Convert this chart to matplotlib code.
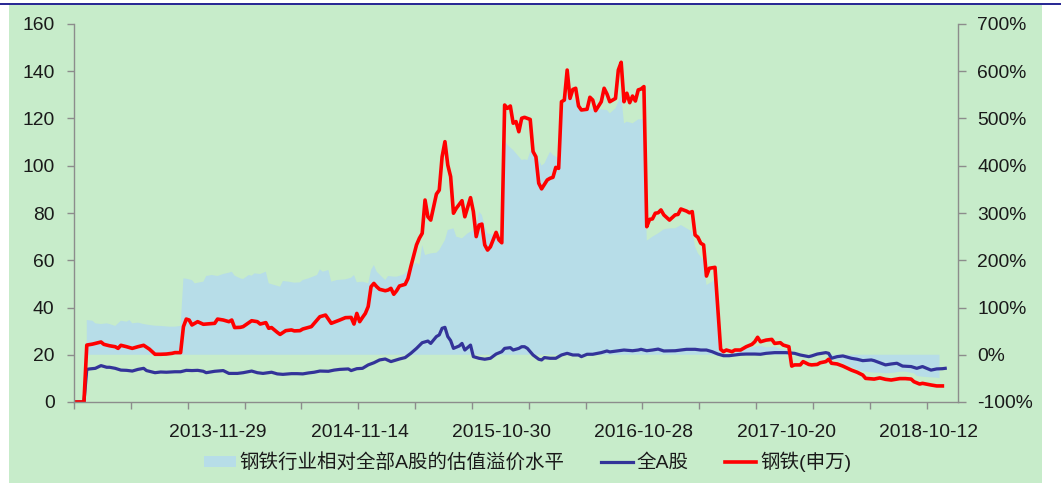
import matplotlib
matplotlib.use('Agg')
from matplotlib import pyplot as plt
from matplotlib.lines import Line2D
from matplotlib.patches import Rectangle
import numpy as np

plt.rcParams['font.family'] = ['Liberation Sans', 'Noto Sans CJK SC', 'DejaVu Sans']

## weekly categories (index = week number on the category axis)
n_weeks = 311
date_labels = ['2013-11-29', '2014-11-14', '2015-10-30', '2016-10-28', '2017-10-20', '2018-10-12']
label_weeks = [50, 100, 150, 200, 250, 300]

## 钢铁(申万) PE, left axis
steel_wk = [0, 3, 4, 6, 7, 9, 10, 12, 14, 15, 16, 18, 20, 22, 24, 26, 28, 30, 32, 34, 35, 37, 38, 39, 40, 41, 43, 45, 46, 49,
            50, 52, 54, 55, 56, 58, 59, 62, 64, 65, 67, 68, 69, 71, 72, 74, 76, 77, 79, 80, 83, 84, 86, 88, 90, 93, 95, 97, 98, 99,
            100, 101, 102, 103, 104, 105, 106, 107, 109, 110, 111, 112, 113, 114, 116, 117, 118, 120, 121, 122, 123, 124, 125, 127, 128, 129,
            130, 131, 132, 133, 134, 136, 137, 139, 140, 141, 142, 143, 144, 145, 146, 148, 149, 150, 151, 152, 153, 154, 155, 156, 157,
            158, 160, 161, 162, 163, 164, 166, 167, 168, 169, 170, 171, 172, 173, 174, 175, 176, 177, 178, 180, 181, 182, 183, 185, 186,
            187, 188, 190, 191, 192, 193, 194, 195, 196, 197, 198, 199, 200, 201, 202, 203, 204, 205, 206, 207, 209, 211, 212, 213, 215,
            216, 217, 218, 219, 220, 221, 222, 223, 225, 227, 228, 229, 231, 232, 234, 236, 238, 239, 240, 241, 243, 245, 246, 248, 249,
            251, 252, 253, 255, 256, 258, 259, 261, 262, 264, 265, 266, 268, 270, 273, 275, 277, 278, 281, 283, 285, 287, 290, 292, 294,
            295, 297, 298, 301, 303, 305]
steel_pe = [0, 0, 24.1, 24.5, 24.8, 25.4, 24.4, 23.8, 23.4, 22.7, 24.0, 23.4, 22.7, 23.4, 24.0, 22.4, 20.2, 20.2, 20.3, 20.6, 20.9, 20.9, 31.9, 35.1, 34.7, 32.6, 34.0, 32.9, 33.0, 33.3,
            35.1, 34.7, 34.0, 34.7, 31.5, 31.6, 31.9, 34.4, 34.0, 33.0, 33.6, 31.2, 31.5, 29.5, 28.6, 30.2, 30.5, 30.1, 30.2, 30.9, 31.9, 33.3, 36.1, 36.8, 33.3, 34.7, 35.7, 35.8, 33.0, 37.5,
            34.0, 35.8, 37.5, 40.4, 48.8, 50.2, 48.8, 47.7, 47.1, 47.4, 48.1, 45.6, 47.1, 49.1, 49.8, 52.3, 57.3, 66.5, 69.3, 71.4, 85.5, 78.4, 77.0, 88.0, 89.7, 103.8,
            110.2, 100.3, 95.4, 79.9, 82.0, 85.2, 78.4, 86.5, 80.6, 70.0, 74.9, 75.3, 66.5, 64.3, 65.7, 71.8, 68.6, 67.4, 125.7, 124.3, 125.3, 118.0, 118.7, 114.4, 120.1,
            120.5, 119.6, 106.0, 103.8, 92.6, 90.2, 94.0, 94.7, 95.1, 99.3, 98.9, 127.1, 127.8, 140.5, 128.5, 132.3, 132.8, 125.3, 123.6, 123.9, 129.0, 127.8, 123.3, 127.1, 132.8,
            130.4, 127.1, 128.5, 140.5, 143.8, 127.1, 130.7, 126.7, 129.5, 127.4, 132.1, 132.5, 133.5, 74.2, 77.3, 77.5, 79.9, 80.1, 81.3, 79.2, 77.0, 79.2, 79.4, 81.7, 80.8,
            80.1, 80.6, 70.7, 69.7, 67.2, 66.5, 53.3, 56.6, 57.0, 22.3, 21.3, 22.0, 21.3, 22.0, 22.0, 23.4, 24.4, 25.5, 27.4, 25.5, 26.2, 26.5, 24.8, 25.1, 24.1,
            23.4, 15.2, 15.7, 15.7, 17.1, 15.9, 15.7, 15.9, 16.6, 17.1, 18.1, 16.4, 16.1, 15.2, 13.5, 12.6, 11.4, 10.0, 9.7, 10.2, 9.6, 9.3, 9.9, 9.9, 9.7,
            8.6, 7.6, 7.9, 7.2, 6.8, 6.8]

## 全A股 PE, left axis
alla_wk = [0, 3, 4, 5, 7, 9, 11, 12, 14, 16, 18, 20, 22, 24, 25, 28, 30, 32, 35, 37, 39, 41, 43, 45, 46, 49, 52, 54, 57, 59,
           62, 64, 66, 69, 71, 73, 76, 78, 80, 82, 84, 86, 89, 91, 93, 96, 97, 99, 101, 103, 105, 107, 109, 111, 114, 116, 118, 120, 122, 124,
           125, 127, 128, 129, 130, 131, 132, 133, 135, 136, 137, 139, 140, 142, 144, 146, 148, 150, 151, 153, 154, 156, 157, 158, 159, 161, 163, 164, 165, 167,
           169, 171, 173, 175, 177, 178, 180, 182, 185, 187, 188, 191, 193, 196, 198, 199, 201, 203, 205, 207, 211, 213, 215, 218, 220, 222, 224, 226, 228, 230,
           232, 234, 236, 239, 241, 243, 246, 248, 250, 253, 255, 258, 259, 261, 264, 265, 266, 268, 270, 273, 275, 277, 280, 281, 283, 285, 287, 289, 291, 294,
           296, 298, 300, 301, 303, 305, 306]
alla_pe = [0, 0, 13.8, 14.0, 14.25, 15.4, 14.7, 14.7, 14.25, 13.5, 13.4, 13.1, 13.8, 14.25, 13.3, 12.4, 12.7, 12.6, 12.8, 12.8, 13.4, 13.3, 13.4, 13.0, 12.4, 13.0, 13.3, 12.1, 12.1, 12.4,
           13.1, 12.4, 12.1, 12.6, 11.9, 11.7, 12.0, 12.0, 11.9, 12.3, 12.6, 13.1, 13.0, 13.5, 13.8, 14.0, 13.3, 14.1, 14.25, 15.7, 16.6, 17.8, 18.2, 17.1, 18.2, 18.8, 20.6, 22.7, 25.1, 25.8,
           24.8, 27.7, 28.4, 31.2, 31.6, 27.7, 26.0, 22.7, 23.7, 24.8, 22.0, 24.1, 19.2, 18.5, 18.1, 18.5, 20.3, 21.3, 22.7, 23.0, 22.0, 22.7, 23.4, 23.4, 22.7, 19.9, 18.1, 17.8, 18.8, 18.5,
           18.5, 19.9, 20.6, 19.9, 19.9, 19.2, 20.2, 20.2, 20.9, 21.6, 21.2, 21.7, 22.0, 21.7, 22.0, 22.3, 21.7, 22.0, 22.4, 21.6, 21.7, 22.0, 22.3, 22.3, 22.0, 22.0, 21.3, 20.3, 19.6, 19.6,
           19.9, 20.2, 20.3, 20.3, 20.2, 20.6, 20.9, 20.9, 20.9, 20.6, 19.9, 19.2, 19.5, 20.3, 20.9, 20.6, 18.5, 19.2, 19.5, 18.5, 18.1, 17.5, 17.8, 17.5, 16.6, 15.7, 16.1, 16.4, 15.2, 15.0,
           14.25, 15.0, 14.0, 13.5, 14.0, 14.1, 14.25]

## 钢铁行业相对全部A股的估值溢价水平 (%), right axis
prem_wk = [4, 6, 7, 9, 11, 12, 14, 15, 16, 18, 19, 20, 22, 24, 26, 28, 30, 33, 35, 37, 38, 39, 41, 42, 43, 45, 46, 48, 50, 52,
           53, 54, 55, 56, 58, 59, 61, 62, 63, 65, 67, 68, 70, 72, 73, 75, 77, 79, 80, 82, 85, 86, 87, 89, 90, 92, 95, 97, 98, 99,
           101, 103, 104, 105, 106, 108, 109, 110, 112, 113, 115, 116, 118, 120, 121, 122, 123, 125, 127, 128, 130, 131, 133, 134, 136, 138, 140, 141, 142, 143,
           144, 145, 147, 149, 150, 151, 152, 154, 156, 157, 158, 159, 160, 161, 162, 164, 165, 166, 167, 168, 170, 171, 172, 173, 175, 177, 178, 180, 181, 184,
           185, 187, 188, 190, 192, 193, 194, 196, 198, 200, 201, 203, 205, 207, 209, 211, 212, 213, 215, 217, 218, 219, 221, 222, 224, 225, 227, 229, 232, 234,
           236, 239, 241, 243, 246, 248, 250, 252, 253, 265, 266, 269, 271, 274, 276, 278, 281, 283, 285, 288, 290, 292, 295, 296, 298, 301, 303, 304]
prem_pct = [73.5, 72, 66.5, 65, 66.5, 65, 61, 66.5, 72, 70, 73.5, 66.5, 68, 65, 63, 61.5, 61, 59.5, 59.5, 61, 161.7, 161, 158, 151, 152.5, 154.7, 166.7, 168.8, 166.7, 171,
            172.3, 173.7, 175.8, 167.4, 161.7, 160.3, 168.8, 167.4, 172.3, 170.9, 175.8, 151.2, 147.6, 144.1, 156.1, 154.7, 152.6, 153.3, 158.2, 161.7, 168.8, 180.8, 175.8, 179.4, 154.7, 158.2, 159.6, 163.1, 168.8, 153.3,
            154.7, 151.2, 179.4, 190, 175.8, 163.8, 158.2, 166.7, 165.3, 165.3, 168.8, 172.3, 186.4, 194.9, 190, 232.3, 211.1, 214.6, 216.0, 221.7, 242.9, 264, 267.6, 249.9, 246.4, 257, 264, 271.1, 302.8, 295.8,
            271.1, 257, 253.4, 249.9, 242.9, 454.5, 443.9, 433.3, 419.2, 412.2, 413.6, 412.2, 429.8, 440.4, 426.3, 400.2, 405.1, 417.8, 429.8, 422.8, 415.7, 496.8, 542.7, 551.9, 541.3, 532.1, 518, 523.6, 521.5, 518,
            519.4, 518, 510.9, 521.5, 549.7, 489.8, 493.3, 489.8, 498.2, 498.2, 241.4, 249.9, 257, 265.4, 267.6, 267.6, 271, 274.6, 267.6, 260.5, 228.7, 214.6, 200.5, 147.6, 154.7, 161.7, 5, 1.6, 3.0, 10.1,
            13.6, 17.1, 19.2, 15.7, 17.1, 12.2, 10.1, 3.0, 0, 0, -7.6, -14.6, -21.7, -28.7, -33.7, -35.8, -37.9, -37.9, -39.3, -37.9, -35.8, -35.8, -39.3, -45, -46.4, -47.8, -48.5, -49.9]

bg_green = '#c7ecca'
area_blue = '#b7dde8'
red = '#ff0000'
navy = '#333399'
grey = '#8c8c8c'
txt = '#1a1a1a'

fig = plt.figure(figsize=(10.61, 4.83), dpi=100)
fig.patch.set_facecolor('white')
# green panel and the navy rule along the top
fig.patches.append(Rectangle((9/1061, 0), (1042-9)/1061, 1-5/483, transform=fig.transFigure,
                             facecolor=bg_green, edgecolor='none', zorder=-10))
fig.lines.append(Line2D([0, 1], [1-3.5/483, 1-3.5/483], transform=fig.transFigure,
                        color='#000080', linewidth=1.2))

ax = fig.add_axes([74/1061, 1-402/483, (958-74)/1061, (402-24)/483])
ax2 = ax.twinx()
ax.set_zorder(ax2.get_zorder() + 1)
ax.patch.set_visible(False)
ax2.patch.set_visible(False)

ax2.fill_between(prem_wk, 0, prem_pct, facecolor=area_blue, edgecolor='none', linewidth=0)
ax.plot(alla_wk, alla_pe, color=navy, linewidth=2.3, solid_joinstyle='round')
ax.plot(steel_wk, steel_pe, color=red, linewidth=2.6, solid_joinstyle='round')

ax.set_xlim(-0.5, n_weeks - 0.5)
ax.set_ylim(0, 160)
ax.set_yticks(np.arange(0, 161, 20))
ax2.set_ylim(-100, 700)
ax2.set_yticks(np.arange(-100, 701, 100))
ax2.set_yticklabels([f'{v}%' for v in range(-100, 701, 100)])

ax.set_xticks(label_weeks)
ax.set_xticklabels(date_labels)
ax.set_xticks(np.arange(-0.5, n_weeks - 1, 20), minor=True)
ax.tick_params(axis='x', which='major', length=0, pad=16, labelsize=13.9, colors=txt)
ax.tick_params(axis='x', which='minor', length=5, width=1, color=grey)
ax.tick_params(axis='y', length=5, width=1, color=grey, pad=9, labelsize=13.9, labelcolor=txt)
ax2.tick_params(axis='y', length=6, width=1, color=grey, pad=8, labelsize=13.9, labelcolor=txt)

for a in (ax, ax2):
    a.spines['top'].set_visible(False)
    for s in ('left', 'right', 'bottom'):
        a.spines[s].set_color(grey)
        a.spines[s].set_linewidth(1)
ax.spines['right'].set_visible(False)
ax2.spines['left'].set_visible(False)
ax2.spines['bottom'].set_visible(False)

handles = [Rectangle((0, 0), 1, 1, facecolor=area_blue, edgecolor='none'),
           Line2D([], [], color=navy, linewidth=2.3),
           Line2D([], [], color=red, linewidth=2.6)]
labels = ['钢铁行业相对全部A股的估值溢价水平', '全A股', '钢铁(申万)']
leg = fig.legend(handles, labels, loc='center', bbox_to_anchor=(528/1061, 1-462/483), ncol=3,
                 frameon=False, fontsize=14, handlelength=1.6, handleheight=0.5,
                 handletextpad=0.2, columnspacing=1.9, borderaxespad=0)
for t in leg.get_texts():
    t.set_color(txt)

fig.savefig('out.png', dpi=100, facecolor=fig.get_facecolor())
